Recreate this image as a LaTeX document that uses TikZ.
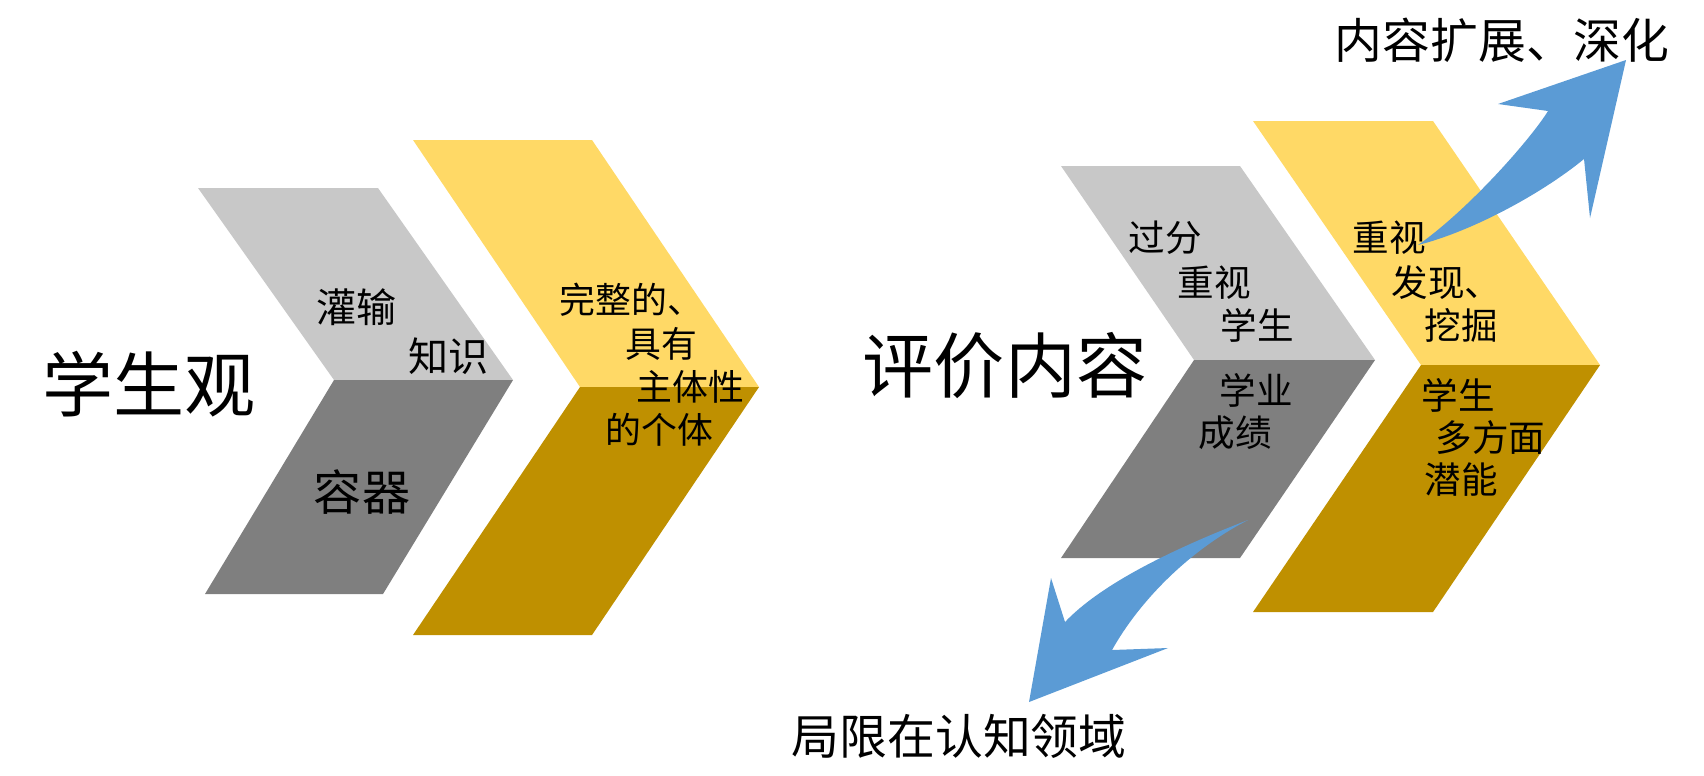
\documentclass[tikz,border=0pt]{standalone}
\usepackage{fontspec}
\newfontfamily\cjk{Noto Sans CJK SC}
\usepackage{xcolor}
\definecolor{lightgrey}{HTML}{C8C8C8}
\definecolor{darkgrey}{HTML}{7F7F7F}
\definecolor{paleyellow}{HTML}{FFD966}
\definecolor{deepgold}{HTML}{BF9000}
\definecolor{arrowblue}{HTML}{5B9BD5}
\tikzset{
  upperpart/.style={fill=lightgrey},
  lowerpart/.style={fill=darkgrey},
  upperbright/.style={fill=paleyellow},
  lowerbright/.style={fill=deepgold},
  bluearrow/.style={fill=arrowblue},
  bigtxt/.style={font=\cjk\fontsize{20.2}{24}\selectfont, inner sep=0pt},
  captxt/.style={font=\cjk\fontsize{13.6}{16}\selectfont, inner sep=0pt, anchor=west},
  midtxt/.style={font=\cjk\fontsize{11.4}{13}\selectfont, inner sep=0pt, anchor=west},
  smalltxt/.style={font=\cjk\fontsize{10.4}{12}\selectfont, inner sep=0pt, anchor=west}
}
\begin{document}
\begin{tikzpicture}[x=0.01cm, y=-0.01cm]
\useasboundingbox (0,0) rectangle (1704,775);

\fill[upperpart] (198,188) -- (378,188) -- (513,380) -- (334,380) -- cycle;
\fill[lowerpart] (334,380) -- (513,380) -- (383,594) -- (205,594) -- cycle;
\fill[upperbright] (413,140) -- (592,140) -- (759,387) -- (580,387) -- cycle;
\fill[lowerbright] (580,387) -- (759,387) -- (592,635) -- (413,635) -- cycle;

\fill[upperpart] (1061,166) -- (1240,166) -- (1375,360) -- (1194,360) -- cycle;
\fill[lowerpart] (1194,360) -- (1375,360) -- (1240,558) -- (1061,558) -- cycle;
\fill[upperbright] (1253,121) -- (1433,121) -- (1600,365) -- (1421,365) -- cycle;
\fill[lowerbright] (1421,365) -- (1600,365) -- (1433,612) -- (1253,612) -- cycle;

\node[bigtxt] (xueshengguan) at (149,384) {学生观};
\node[midtxt] (guanshu) at (316,307) {灌输};
\node[midtxt] (zhishi) at (408,356) {知识};
\node[bigtxt, font=\cjk\fontsize{13.7}{16}\selectfont] (rongqi) at (362,492) {容器};
\node[smalltxt, font=\cjk\fontsize{10.2}{12}\selectfont] (wanzheng) at (559,300) {完整的、};
\node[smalltxt, font=\cjk\fontsize{10.2}{12}\selectfont] (juyou) at (625,344) {具有};
\node[smalltxt, font=\cjk\fontsize{10.2}{12}\selectfont] (zhuti) at (636,387) {主体性};
\node[smalltxt, font=\cjk\fontsize{10.2}{12}\selectfont] (geti) at (605,430) {的个体};

\node[bigtxt] (pingjia) at (1005,366) {评价内容};
\node[smalltxt] (guofen) at (1128,238) {过分};
\node[smalltxt] (zhongshi) at (1177,283) {重视};
\node[smalltxt] (xuesheng) at (1220,325) {学生};
\node[smalltxt] (xueye) at (1219,390) {学业};
\node[smalltxt] (chengji) at (1198,433) {成绩};
\node[smalltxt] (zhongshib) at (1352,238) {重视};
\node[smalltxt] (faxian) at (1391,283) {发现、};
\node[smalltxt] (wajue) at (1424,325) {挖掘};
\node[smalltxt] (xueshengb) at (1421,395) {学生};
\node[smalltxt] (duofangmian) at (1435,438) {多方面};
\node[smalltxt] (qianneng) at (1424,480) {潜能};

\node[captxt] (kuozhan) at (1334,40) {内容扩展、深化};
\node[captxt] (juxian) at (791,736) {局限在认知领域};

\coordinate (uptail) at (1418,245);
\coordinate (uptip) at (1626,60);
\coordinate (downtail) at (1248,520);
\coordinate (downtip) at (1029,702);

\fill[bluearrow] (uptail) .. controls (1468,210) and (1530,140) .. (1548,111)
  -- (1498,104) -- (uptip) -- (1590,218) -- (1584,159)
  .. controls (1540,195) and (1470,232) .. (uptail) -- cycle;
\fill[bluearrow] (downtail) .. controls (1170,550) and (1100,585) .. (1065,622)
  -- (1051,578) -- (downtip) -- (1168,648) -- (1112,650)
  .. controls (1140,600) and (1190,550) .. (downtail) -- cycle;
\end{tikzpicture}
\end{document}
